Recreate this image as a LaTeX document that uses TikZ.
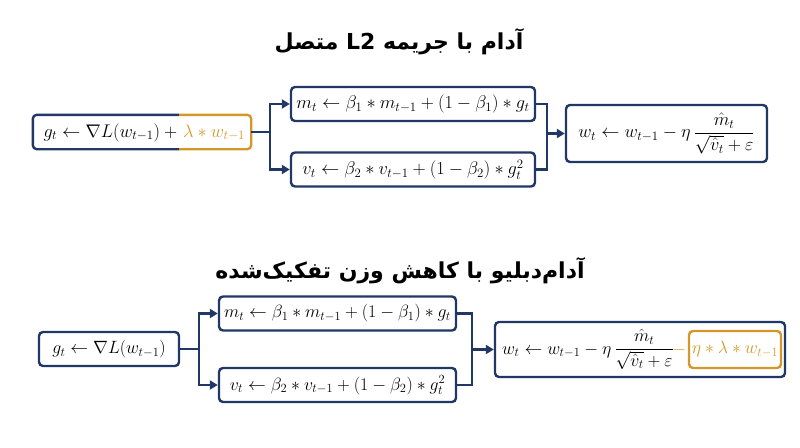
\RequirePackage{fix-cm}
\documentclass[tikz,border=0pt]{standalone}
\usepackage{fontspec}
\newfontfamily\farsi[Script=Arabic]{DejaVu Sans}
\TeXXeTstate=1
\usetikzlibrary{arrows.meta}
\definecolor{navy}{RGB}{33,55,102}
\definecolor{gold}{RGB}{212,152,40}
\begin{document}
\begin{tikzpicture}[x=1pt,y=-1pt,
  box/.style={draw=navy, line width=2.4pt, rounded corners=4pt, minimum height=34pt, inner sep=0pt},
  txt/.style={inner sep=0pt},
  topf/.style={font=\fontsize{18.3}{22}\selectfont},
  botf/.style={font=\fontsize{17.8}{21}\selectfont},
  conn/.style={draw=navy, line width=2.4pt},
  arr/.style={conn, -{Triangle[length=8pt,width=9pt]}},
  ttl/.style={font=\farsi\bfseries\fontsize{22}{26}\selectfont}]
\useasboundingbox (0,0) rectangle (800,447);

% ---------- top diagram ----------
\node[ttl] (t1) at (399,42) {\beginR آدام با جریمه \beginL L2\endL{} متصل\endR};

\node[minimum width=218pt, minimum height=34pt, inner sep=0pt] (g1) at (142,132) {};
\coordinate (s1) at (179,132);
\node[txt, topf, anchor=base east] (g1a) at (177.5,137) {$g_t \leftarrow \nabla L(w_{t-1})\mskip\medmuskip+$};
\node[txt, topf, anchor=base west, text=gold] (g1b) at (183,137) {$\lambda * w_{t-1}$};
\draw[navy, line width=2.4pt, rounded corners=4pt] (s1 |- g1.north) -| (g1.south west) -- (s1 |- g1.south);
\draw[gold, line width=2.4pt, rounded corners=4pt] (s1 |- g1.north) -| (g1.south east) -- (s1 |- g1.south);

\node[box, topf, minimum width=244pt] (m1) at (413,104) {$m_t \leftarrow \beta_1 * m_{t-1} + (1-\beta_1) * g_t$};
\node[box, topf, minimum width=244pt] (v1) at (413,169.5) {$v_t \leftarrow \beta_2 * v_{t-1} + (1-\beta_2) * g_t^2$};
\node[box, topf, minimum width=201pt, minimum height=57pt] (w1) at (666.5,133.5) {$w_t \leftarrow w_{t-1} - \eta\,{\displaystyle\frac{\hat m_t}{\sqrt{\hat v_t}+\varepsilon}}$};

\coordinate (b1) at (270,132);
\coordinate (j1) at (547,133.5);
\draw[conn] (g1.east) -- (b1);
\draw[arr] (b1) |- (m1.west);
\draw[arr] (b1) |- (v1.west);
\draw[conn] (m1.east) -| (j1) |- (v1.east);
\draw[arr] (j1) -- (w1.west);

% ---------- bottom diagram ----------
\node[ttl] (t2) at (400,271) {\beginR آدام‌دبلیو با کاهش وزن تفکیک‌شده\endR};

\node[box, botf, minimum width=140pt] (g2) at (109,349) {$g_t \leftarrow \nabla L(w_{t-1})$};
\node[box, botf, minimum width=237pt] (m2) at (337.5,313.5) {$m_t \leftarrow \beta_1 * m_{t-1} + (1-\beta_1) * g_t$};
\node[box, botf, minimum width=237pt] (v2) at (337.5,385) {$v_t \leftarrow \beta_2 * v_{t-1} + (1-\beta_2) * g_t^2$};
\node[box, minimum width=290pt, minimum height=55pt] (w2) at (640,349.5) {};
\node[txt, botf, anchor=base west] (w2f) at (502,354) {$w_t \leftarrow w_{t-1} - \eta\,{\displaystyle\frac{\hat m_t}{\sqrt{\hat v_t}+\varepsilon}}$};
\node[txt, botf, anchor=base, text=gold] (mn) at (679,354) {$-$};
\node[box, botf, draw=gold, text=gold, minimum width=92pt, minimum height=37pt] (ob) at (735,349.5) {$\eta * \lambda * w_{t-1}$};

\coordinate (b2) at (199,349);
\coordinate (j2) at (472,349.5);
\draw[conn] (g2.east) -- (b2);
\draw[arr] (b2) |- (m2.west);
\draw[arr] (b2) |- (v2.west);
\draw[conn] (m2.east) -| (j2) |- (v2.east);
\draw[arr] (j2) -- (w2.west);
\end{tikzpicture}
\end{document}
